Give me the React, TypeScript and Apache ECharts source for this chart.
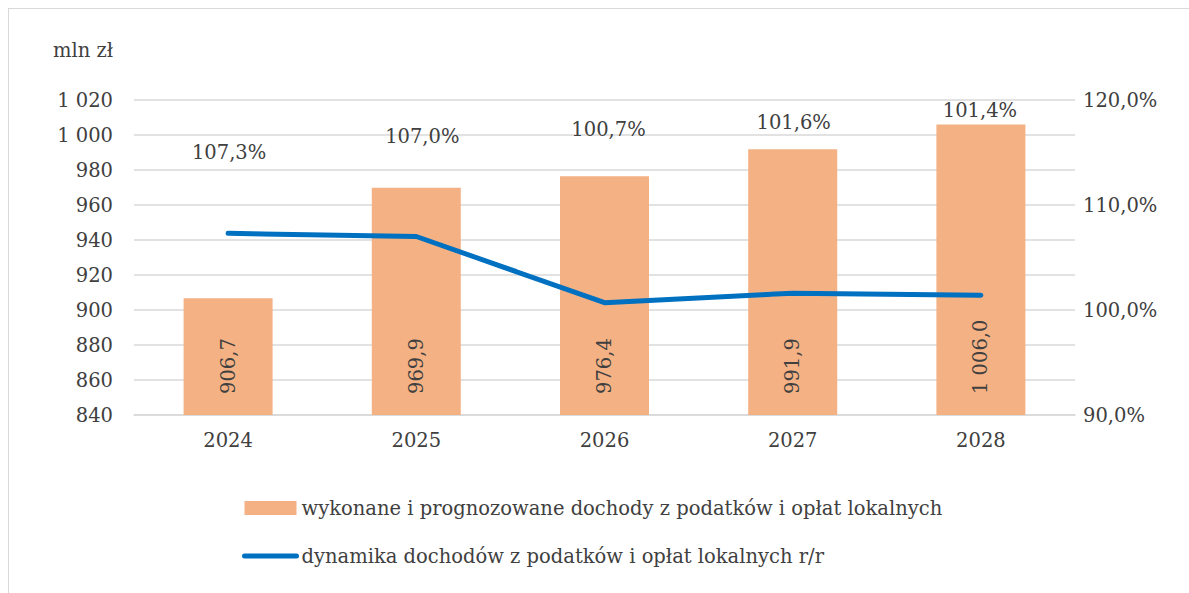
import React, { useEffect, useRef } from "react";
import * as echarts from "echarts";

const categories = ["2024", "2025", "2026", "2027", "2028"];
const incomeValues = [906.7, 969.9, 976.4, 991.9, 1006.0];
const dynamicsValues = [107.3, 107.0, 100.7, 101.6, 101.4];
const barName = "wykonane i prognozowane dochody z podatków i opłat lokalnych";
const lineName = "dynamika dochodów z podatków i opłat lokalnych r/r";
const unitLabel = "mln zł";

// label placement (style only)
const lineLabelOffsets = [
  [1, -81],
  [6, -100],
  [4, -173],
  [1, -171],
  [-1, -185],
];

const FONT = "DejaVu Serif";
const FS = 19.5;
const TEXT = "#404040";

function fmtThousands(v: number, decimals: number): string {
  const s = v.toFixed(decimals);
  const [i, d] = s.split(".");
  const ii = i.replace(/\B(?=(\d{3})+(?!\d))/g, " ");
  return d !== undefined ? ii + "," + d : ii;
}

export default function App() {
  const ref = useRef<HTMLDivElement>(null);
  useEffect(() => {
    if (!ref.current) return;
    const chart = echarts.init(ref.current, undefined, { renderer: "svg" });
    chart.setOption({
      animation: false,
      textStyle: { fontFamily: FONT, color: TEXT },
      grid: { left: 125, top: 91, width: 941, height: 315, containLabel: false },
      graphic: [
        {
          type: "text",
          x: 104,
          y: 41,
          style: {
            text: unitLabel,
            fontFamily: FONT,
            fontSize: FS,
            fill: TEXT,
            align: "right",
            verticalAlign: "middle",
          },
        },
      ],
      legend: {
        orient: "vertical",
        left: 228,
        top: 481,
        itemWidth: 52,
        itemHeight: 14,
        itemGap: 22,
        textStyle: { fontFamily: FONT, fontSize: FS, color: TEXT, lineHeight: 26 },
        data: [
          { name: barName, icon: "rect" },
          {
            name: lineName,
            itemStyle: { opacity: 0 },
            lineStyle: { width: 5, color: "#0070C0", cap: "round" },
          },
        ],
      },
      xAxis: {
        type: "category",
        data: categories,
        axisLine: { lineStyle: { color: "#D9D9D9", width: 1.5 } },
        axisTick: { show: false },
        axisLabel: { fontFamily: FONT, fontSize: FS, color: TEXT, margin: 15 },
      },
      yAxis: [
        {
          type: "value",
          min: 840,
          max: 1020,
          interval: 20,
          axisLine: { show: false },
          axisTick: { show: false },
          splitLine: { lineStyle: { color: "#D9D9D9", width: 1.5 } },
          axisLabel: {
            fontFamily: FONT,
            fontSize: FS,
            color: TEXT,
            margin: 21,
            formatter: (v: number) => fmtThousands(v, 0),
          },
        },
        {
          type: "value",
          min: 90,
          max: 120,
          interval: 10,
          position: "right",
          axisLine: { show: false },
          axisTick: { show: false },
          splitLine: { show: false },
          axisLabel: {
            fontFamily: FONT,
            fontSize: FS,
            color: TEXT,
            margin: 8,
            formatter: (v: number) => v.toFixed(1).replace(".", ",") + "%",
          },
        },
      ],
      series: [
        {
          name: barName,
          type: "bar",
          data: incomeValues,
          barWidth: 89,
          itemStyle: { color: "#F4B183" },
          label: {
            show: true,
            position: "insideBottom",
            distance: 21,
            rotate: 90,
            align: "left",
            verticalAlign: "middle",
            fontFamily: FONT,
            fontSize: FS,
            color: TEXT,
            formatter: (p: any) => fmtThousands(p.value, 1),
          },
        },
        {
          name: lineName,
          type: "line",
          yAxisIndex: 1,
          data: dynamicsValues,
          symbol: "none",
          lineStyle: { color: "#0070C0", width: 5, cap: "round" },
          itemStyle: { color: "#0070C0" },
          z: 3,
        },
        {
          name: "_labels",
          type: "line",
          yAxisIndex: 1,
          data: dynamicsValues.map((v, i) => ({
            value: v,
            label: { offset: lineLabelOffsets[i] },
          })),
          symbol: "circle",
          symbolSize: 1,
          lineStyle: { opacity: 0, width: 0 },
          itemStyle: { color: "rgba(0,0,0,0)" },
          label: {
            show: true,
            position: "inside",
            fontFamily: FONT,
            fontSize: FS,
            color: TEXT,
            formatter: (p: any) => p.value.toFixed(1).replace(".", ",") + "%",
          },
          z: 4,
        },
      ],
    });
    return () => chart.dispose();
  }, []);
  return (
    <div
      style={{
        position: "fixed",
        left: 8,
        top: 8,
        width: 1181,
        height: 585,
        boxSizing: "border-box",
        borderTop: "1px solid #D9D9D9",
        borderLeft: "1px solid #D9D9D9",
        background: "#fff",
      }}
    >
      <div ref={ref} style={{ width: 1180, height: 584 }} />
    </div>
  );
}
